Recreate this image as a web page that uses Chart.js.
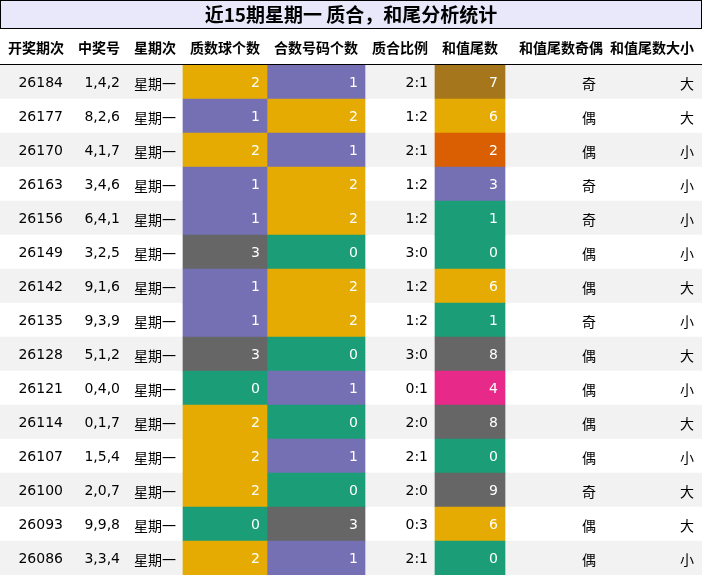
<!DOCTYPE html>
<html><head><meta charset="utf-8">
<script src="https://cdn.jsdelivr.net/npm/chart.js@4"></script>
<style>html,body{margin:0;padding:0;background:#fff}#w{width:702px;height:576px}</style>
</head><body><div id="w"><canvas id="c"></canvas></div>
<script>
const title = '近15期星期一 质合，和尾分析统计';
const headers = ['开奖期次','中奖号','星期次','质数球个数','合数号码个数','质合比例','和值尾数','和值尾数奇偶','和值尾数大小'];
const issues = ['26184','26177','26170','26163','26156','26149','26142','26135','26128','26121','26114','26107','26100','26093','26086'];
const numbers = ['1,4,2','8,2,6','4,1,7','3,4,6','6,4,1','3,2,5','9,1,6','9,3,9','5,1,2','0,4,0','0,1,7','1,5,4','2,0,7','9,9,8','3,3,4'];
const weekday = '星期一';
const primeCount = [2,1,2,1,1,3,1,1,3,0,2,2,2,0,2];
const compCount = [1,2,1,2,2,0,2,2,0,1,0,1,0,3,1];
const ratio = ['2:1','1:2','2:1','1:2','1:2','3:0','1:2','1:2','3:0','0:1','2:0','2:1','2:0','0:3','2:1'];
const tail = [7,6,2,3,1,0,6,1,8,4,8,0,9,6,0];
const parity = ['奇','偶','偶','奇','奇','偶','偶','奇','偶','偶','偶','偶','奇','偶','偶'];
const size = ['大','大','小','小','小','小','大','小','大','小','大','小','大','大','小'];

const countColor = {0:'#1b9e77',1:'#7570b3',2:'#e6ab02',3:'#666666'};
const tailColor = {0:'#1b9e77',1:'#1b9e77',2:'#d95f02',3:'#7570b3',4:'#e7298a',6:'#e6ab02',7:'#a6761d',8:'#666666',9:'#666666'};
const edges = {prime:[183,267], comp:[267,365], tail:[435,505]};
const FONT = '"DejaVu Sans","Noto Sans CJK SC",sans-serif';
const CJK = '"Noto Sans CJK SC",sans-serif';

const textPlugin = {
  id:'txt',
  afterDraw(chart){
    const ctx = chart.ctx, y = chart.scales.y;
    ctx.save();
    // title
    ctx.fillStyle = '#e8e8fa'; ctx.fillRect(0.5,0.5,701,28);
    ctx.strokeStyle = '#000'; ctx.lineWidth = 1; ctx.strokeRect(0.5,0.5,701,28);
    ctx.fillStyle = '#000'; ctx.font = 'bold 19px '+CJK; ctx.textAlign='center'; ctx.textBaseline='middle';
    ctx.fillText(title, 351, 15);
    // headers
    const hx = [36,99,155,225,316,400,470,561,652];
    ctx.font = 'bold 14px '+CJK;
    headers.forEach((h,i)=>ctx.fillText(h,hx[i],48));
    ctx.beginPath(); ctx.moveTo(0,64.5); ctx.lineTo(702,64.5); ctx.stroke();
    issues.forEach((iss,r)=>{
      const py = y.getPixelForValue(r)+1;
      ctx.fillStyle='#000'; ctx.font='14px '+FONT; ctx.textAlign='right';
      ctx.fillText(iss,63,py); ctx.fillText(numbers[r],120,py); ctx.fillText(ratio[r],428,py);
      ctx.textAlign='center'; ctx.font='14px '+CJK;
      ctx.fillText(weekday,155,py+1); ctx.fillText(parity[r],589,py+1);
      ctx.textAlign='right'; ctx.fillText(size[r],694,py+1);
      ctx.fillStyle='#fff'; ctx.font='14px '+FONT;
      ctx.fillText(String(primeCount[r]),260,py); ctx.fillText(String(compCount[r]),358,py); ctx.fillText(String(tail[r]),498,py);
    });
    ctx.restore();
  }
};

const rows = issues.map((_,i)=>i);
const mk = (range, colors)=>({data: rows.map(()=>range), backgroundColor: colors, grouped:false, barPercentage:1, categoryPercentage:1, borderWidth:0});
new Chart(document.getElementById('c'),{
  type:'bar',
  data:{labels: rows, datasets:[
    mk(edges.prime, primeCount.map(v=>countColor[v])),
    mk(edges.comp, compCount.map(v=>countColor[v])),
    mk(edges.tail, tail.map(v=>tailColor[v])),
    mk([0,702], rows.map(i=>i%2===0?'#f2f2f2':'#ffffff'))
  ]},
  options:{
    indexAxis:'y', responsive:true, maintainAspectRatio:false, animation:false,
    layout:{padding:{top:65,left:0,right:0,bottom:1}},
    plugins:{legend:{display:false}, tooltip:{enabled:false}},
    scales:{
      x:{type:'linear', min:0, max:702, display:false},
      y:{type:'category', display:false, offset:true}
    }
  },
  plugins:[textPlugin]
});
</script></body></html>
